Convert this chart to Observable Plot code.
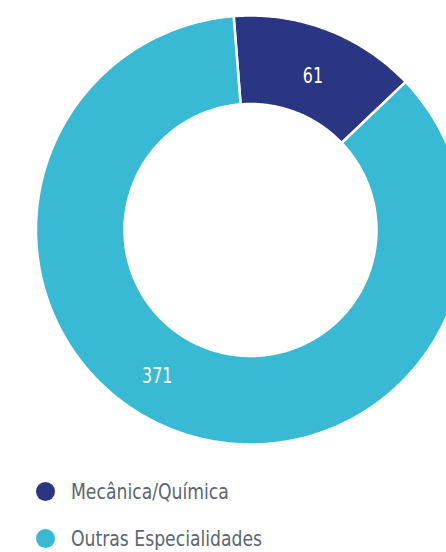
<!DOCTYPE html>
<html>
<head>
<meta charset="utf-8">
<script src="https://cdn.jsdelivr.net/npm/d3@7"></script>
<script src="https://cdn.jsdelivr.net/npm/@observablehq/plot@0.6"></script>
<style>
  html, body { margin: 0; padding: 0; background: #ffffff; overflow: hidden; }
  #chart svg { overflow: hidden; display: block; }
  #legend { position: absolute; left: 36px; top: 468px; font-family: "DejaVu Sans Condensed", "DejaVu Sans", sans-serif; font-size: 22px; color: #5b6670; }
  .row { display: flex; align-items: center; height: 47px; white-space: nowrap; }
  .sw { width: 19px; height: 19px; border-radius: 50%; margin-right: 16px; flex: none; }
  .lt { display: inline-block; transform: scaleX(0.87); transform-origin: left center; }
</style>
</head>
<body>
<div id="chart"></div>
<div id="legend"></div>
<script>
// ---- data ----
const categories = ["Mecânica/Química", "Outras Especialidades"];
const values = [61, 371];
const colors = ["#2a3583", "#38bad4"];

// ---- layout ----
const W = 446, H = 465;
const cx = 250, cy = 229.5;       // centre in px
const R = 214.5, r = 126;          // outer / inner radius in px
const startDeg = -4.5;             // rotation of first slice
const labelFrac = i => (i === 0 ? 0.54 : 0.534); // where along each arc the label sits
const labelRad = i => (i === 0 ? 160 : 179);     // label distance from centre

const total = d3.sum(values);
const toRad = d => d * Math.PI / 180;

// build arc polygons from data
const pts = [];
const labels = [];
let acc = 0;
categories.forEach((c, i) => {
  const a0 = toRad(startDeg) + acc / total * 2 * Math.PI;
  acc += values[i];
  const a1 = toRad(startDeg) + acc / total * 2 * Math.PI;
  const n = Math.max(8, Math.ceil((a1 - a0) / toRad(0.5)));
  for (let k = 0; k <= n; k++) {
    const a = a0 + (a1 - a0) * k / n;
    pts.push({cat: c, x: R * Math.sin(a), y: R * Math.cos(a)});
  }
  for (let k = n; k >= 0; k--) {
    const a = a0 + (a1 - a0) * k / n;
    pts.push({cat: c, x: r * Math.sin(a), y: r * Math.cos(a)});
  }
  const am = a0 + (a1 - a0) * labelFrac(i);
  const lr = labelRad(i);
  labels.push({cat: c, v: values[i], x: lr * Math.sin(am), y: lr * Math.cos(am)});
});

const plot = Plot.plot({
  width: W,
  height: H,
  margin: 0,
  x: {domain: [-cx, W - cx], range: [0, W], axis: null},
  y: {domain: [-(H - cy), cy], range: [H, 0], axis: null},
  color: {domain: categories, range: colors},
  marks: [
    Plot.line(pts, {x: "x", y: "y", z: "cat", fill: "cat", stroke: "#ffffff", strokeWidth: 2.5, curve: "linear-closed", strokeLinejoin: "round"}),
    Plot.text(labels, {x: "x", y: "y", text: d => String(d.v), fill: "#ffffff", fontSize: 22, fontFamily: "DejaVu Sans Condensed, DejaVu Sans, sans-serif"})
  ]
});
// narrow the label glyphs to mimic the condensed face
d3.select(plot).selectAll("text").each(function () {
  const t = d3.select(this);
  const x = +t.attr("x") || 0, y = +t.attr("y") || 0;
  const tr = t.attr("transform") || "";
  t.attr("x", null).attr("y", null).attr("transform", `${tr} translate(${x},${y}) scale(0.8,1)`);
});
document.getElementById("chart").appendChild(plot);

// legend
const lg = document.getElementById("legend");
categories.forEach((c, i) => {
  const row = document.createElement("div");
  row.className = "row";
  const sw = document.createElement("span");
  sw.className = "sw";
  sw.style.background = colors[i];
  const t = document.createElement("span");
  t.className = "lt";
  t.textContent = c;
  row.appendChild(sw);
  row.appendChild(t);
  lg.appendChild(row);
});
</script>
</body>
</html>
